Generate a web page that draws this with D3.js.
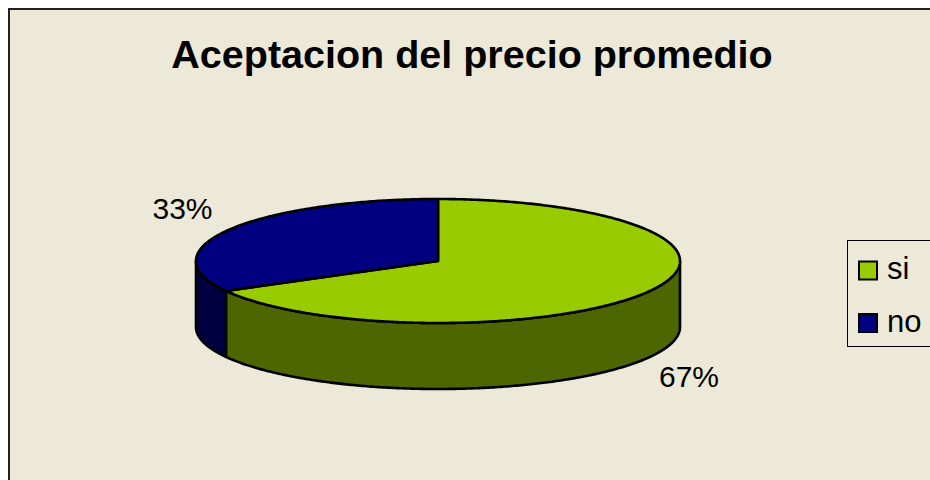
<!DOCTYPE html>
<html>
<head>
<meta charset="utf-8">
<script src="https://cdn.jsdelivr.net/npm/d3@7"></script>
<style>
html,body{margin:0;padding:0;background:#fff;}
svg{display:block;}
</style>
</head>
<body>
<svg id="chart" width="930" height="480"></svg>
<script>
const title = "Aceptacion del precio promedio";
const categories = ["si", "no"];
const values = [67, 33];
const topColors = ["#99CC00", "#000080"];
const sideColors = ["#4D6600", "#000040"];

const svg = d3.select("#chart");
const W = 930, H = 480;

// chart area
svg.append("rect").attr("x", 0).attr("y", 0).attr("width", W).attr("height", H).attr("fill", "#fff");
svg.append("rect").attr("x", 9).attr("y", 9).attr("width", W + 20).attr("height", H + 20)
  .attr("fill", "#ECE9D8").attr("stroke", "#222").attr("stroke-width", 2);

// title
svg.append("text").attr("x", 472).attr("y", 67.5).attr("text-anchor", "middle")
  .attr("font-family", "Liberation Sans, Arial, sans-serif").attr("font-weight", "bold")
  .attr("font-size", 39.5).attr("fill", "#000").text(title);

// pie geometry
const cx = 438, cy = 261, rx = 242, ry = 62, depth = 66;
const pie = d3.pie().sort(null).value(d => d);
const arcs = pie(values);
const px = a => cx + rx * Math.sin(a);
const py = a => cy - ry * Math.cos(a);
const line = d3.line();

function sample(a0, a1) {
  const n = Math.max(2, Math.ceil(Math.abs(a1 - a0) / 0.01));
  return d3.range(n + 1).map(i => a0 + (a1 - a0) * i / n);
}

const g = svg.append("g");
// side faces
arcs.forEach((d, i) => {
  const a0 = Math.max(d.startAngle, Math.PI / 2);
  const a1 = Math.min(d.endAngle, 3 * Math.PI / 2);
  if (a1 <= a0) return;
  const angs = sample(a0, a1);
  const pts = angs.map(a => [px(a), py(a)])
    .concat(angs.slice().reverse().map(a => [px(a), py(a) + depth]));
  g.append("path").attr("d", line(pts) + "Z")
    .attr("fill", sideColors[i]).attr("stroke", "#000").attr("stroke-width", 2.6)
    .attr("stroke-linejoin", "round");
});
// top faces
arcs.forEach((d, i) => {
  const pts = [[cx, cy]].concat(sample(d.startAngle, d.endAngle).map(a => [px(a), py(a)]));
  g.append("path").attr("d", line(pts) + "Z")
    .attr("fill", topColors[i]).attr("stroke", "#000").attr("stroke-width", 2.6)
    .attr("stroke-linejoin", "round");
});

// labels
const fmt = d3.format(".0%");
const total = d3.sum(values);
const labelPos = [[689, 386.5], [182.5, 218.5]];
arcs.forEach((d, i) => {
  svg.append("text").attr("x", labelPos[i][0]).attr("y", labelPos[i][1])
    .attr("text-anchor", "middle")
    .attr("font-family", "Liberation Sans, Arial, sans-serif")
    .attr("font-size", 30).attr("fill", "#000")
    .text(fmt(d.data / total));
});

// legend
svg.append("rect").attr("x", 847.5).attr("y", 240.5).attr("width", 100).attr("height", 106)
  .attr("fill", "none").attr("stroke", "#000").attr("stroke-width", 1);
const legendY = d3.scalePoint().domain(categories).range([270.5, 323]);
categories.forEach((c, i) => {
  const y = legendY(c);
  svg.append("rect").attr("x", 859).attr("y", y - 9).attr("width", 18).attr("height", 18)
    .attr("fill", topColors[i]).attr("stroke", "#000").attr("stroke-width", 2);
  svg.append("text").attr("x", 887).attr("y", y + 8.5)
    .attr("font-family", "Liberation Sans, Arial, sans-serif")
    .attr("font-size", 31).attr("fill", "#000").text(c);
});
</script>
</body>
</html>
